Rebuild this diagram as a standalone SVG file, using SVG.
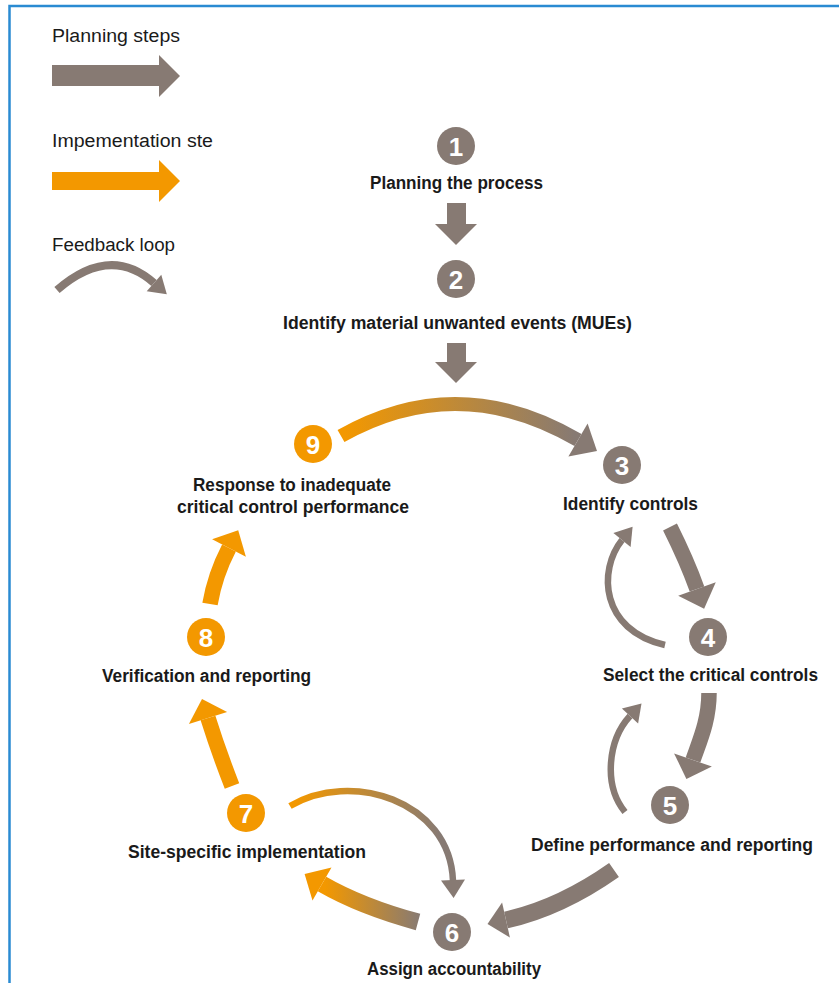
<svg xmlns="http://www.w3.org/2000/svg" width="839" height="983" viewBox="0 0 839 983">
<style>
.bg{fill:#ffffff}
.frame{fill:none;stroke:#2a8bd2;stroke-width:2.5}
.g{fill:#877a73}
.o{fill:#f39800}
.sg{fill:none;stroke:#877a73}
.so{fill:none;stroke:#f39800}
.thick{stroke-width:15.5}
.thin{stroke-width:6.5}
.num{font-family:"Liberation Sans Narrow","Liberation Sans",Arial,sans-serif;font-weight:bold;font-size:26px;fill:#ffffff;text-anchor:middle}
.lbl{font-family:"Liberation Sans Narrow","Liberation Sans",Arial,sans-serif;font-weight:bold;font-size:18px;fill:#1a1a1a;text-anchor:middle}
.leg{font-family:"Liberation Sans Narrow","Liberation Sans",Arial,sans-serif;font-size:18px;fill:#1a1a1a}
</style>
<defs>
<linearGradient id="g93" gradientUnits="userSpaceOnUse" x1="345" y1="0" x2="575" y2="0">
<stop offset="0" stop-color="#f39800"/><stop offset="1" stop-color="#877a73"/>
</linearGradient>
<linearGradient id="g76" gradientUnits="userSpaceOnUse" x1="295" y1="0" x2="440" y2="0">
<stop offset="0" stop-color="#f39800"/><stop offset="1" stop-color="#877a73"/>
</linearGradient>
<linearGradient id="g67" gradientUnits="userSpaceOnUse" x1="420" y1="0" x2="325" y2="0">
<stop offset="0" stop-color="#877a73"/><stop offset="1" stop-color="#f39800"/>
</linearGradient>
</defs>
<rect class="bg" x="0" y="0" width="839" height="983"/>
<path class="frame" d="M9.5,983 V6 H839"/>

<g id="legend">
<text class="leg" x="52" y="42" textLength="128" lengthAdjust="spacingAndGlyphs">Planning steps</text>
<polygon class="g" points="52,65 159,65 159,55 180,76 159,97 159,86 52,86"/>
<text class="leg" x="52" y="147" textLength="161" lengthAdjust="spacingAndGlyphs">Impementation ste</text>
<polygon class="o" points="52,172 159,172 159,160 180,181 159,202 159,190 52,190"/>
<text class="leg" x="52" y="251" textLength="123" lengthAdjust="spacingAndGlyphs">Feedback loop</text>
<path class="sg" stroke-width="8" d="M57,290 Q110,244 154,283"/>
<polygon class="g" points="166.8,294.2 146.7,291.3 161.3,274.8"/>
</g>

<g id="connectors">
<!-- 1 -> 2 -->
<polygon class="g" points="447,203 466,203 466,224 477,224 456,245 435,224 447,224"/>
<!-- 2 -> 3 -->
<polygon class="g" points="447,343 466,343 466,362 477,362 456,383 435,362 447,362"/>
<!-- 9 -> 3 -->
<path fill="none" stroke="url(#g93)" stroke-width="14" d="M341,436 Q458,370 578,440"/>
<polygon class="g" points="597,451.1 568.4,456.4 587.6,423.6"/>
<!-- 3 -> 4 -->
<path class="sg thick" d="M670,527 Q687,561 697,589"/>
<polygon class="g" points="704.1,608.8 678.2,595.7 715.8,582.3"/>
<!-- 4 -> 3 feedback -->
<path class="sg thin" d="M665,645 C600,630 598,570 622,540"/>
<polygon class="g" points="632.6,526.7 630.6,546.9 613.4,533.1"/>
<!-- 4 -> 5 -->
<path class="sg thick" d="M709,693 C709,720 700,740 693,760"/>
<polygon class="g" points="686.4,778.9 711.9,766.6 674.1,753.4"/>
<!-- 5 -> 4 feedback -->
<path class="sg thin" d="M625,812 C603,785 608,740 630,716"/>
<polygon class="g" points="641.5,703.5 638.1,723.4 621.9,708.6"/>
<!-- 5 -> 6 -->
<path class="sg" stroke-width="17" d="M614,870 Q560,908 506,920"/>
<polygon class="g" points="487.5,924.1 509.9,937.6 502.1,902.4"/>
<!-- 7 -> 6 feedback -->
<path fill="none" stroke="url(#g76)" stroke-width="6.5" d="M290,806 C350,770 450,800 453,881"/>
<polygon class="g" points="453.6,898 441,880.4 465,879.6"/>
<!-- 6 -> 7 -->
<path fill="none" stroke="url(#g67)" stroke-width="17" d="M418,922 Q361,906.5 322,884"/>
<polygon class="o" points="304.6,874 331.5,867.5 312.5,900.5"/>
<!-- 7 -> 8 -->
<path class="so thick" d="M232,786 Q218,750 208,718"/>
<polygon class="o" points="202,698.9 227.1,712 188.9,724"/>
<!-- 8 -> 9 -->
<path class="so thick" d="M210,604 Q215,575 229,548"/>
<polygon class="o" points="238.2,530.2 245.9,556.7 212.1,539.3"/>
</g>

<g id="node-1">
<circle class="g" cx="456" cy="146" r="19"/>
<text class="num" x="456" y="155.5">1</text>
<text class="lbl" x="456.5" y="189" textLength="173" lengthAdjust="spacingAndGlyphs">Planning the process</text>
</g>
<g id="node-2">
<circle class="g" cx="456" cy="279" r="19"/>
<text class="num" x="456" y="288.5">2</text>
<text class="lbl" x="457.5" y="329" textLength="349" lengthAdjust="spacingAndGlyphs">Identify material unwanted events (MUEs)</text>
</g>
<g id="node-3">
<circle class="g" cx="622" cy="465" r="19"/>
<text class="num" x="622" y="474.5">3</text>
<text class="lbl" x="630.5" y="510" textLength="135" lengthAdjust="spacingAndGlyphs">Identify controls</text>
</g>
<g id="node-4">
<circle class="g" cx="708" cy="637" r="19"/>
<text class="num" x="708" y="646.5">4</text>
<text class="lbl" x="710.5" y="681" textLength="215" lengthAdjust="spacingAndGlyphs">Select the critical controls</text>
</g>
<g id="node-5">
<circle class="g" cx="670" cy="805" r="19"/>
<text class="num" x="670" y="814.5">5</text>
<text class="lbl" x="672" y="851" textLength="282" lengthAdjust="spacingAndGlyphs">Define performance and reporting</text>
</g>
<g id="node-6">
<circle class="g" cx="452" cy="932" r="19"/>
<text class="num" x="452" y="941.5">6</text>
<text class="lbl" x="454" y="975" textLength="174" lengthAdjust="spacingAndGlyphs">Assign accountability</text>
</g>
<g id="node-7">
<circle class="o" cx="246" cy="813" r="19"/>
<text class="num" x="246" y="822.5">7</text>
<text class="lbl" x="247" y="858" textLength="238" lengthAdjust="spacingAndGlyphs">Site-specific implementation</text>
</g>
<g id="node-8">
<circle class="o" cx="206" cy="637" r="19"/>
<text class="num" x="206" y="646.5">8</text>
<text class="lbl" x="206.5" y="682" textLength="209" lengthAdjust="spacingAndGlyphs">Verification and reporting</text>
</g>
<g id="node-9">
<circle class="o" cx="313" cy="444" r="19"/>
<text class="num" x="313" y="453.5">9</text>
<text class="lbl" x="292" y="491" textLength="198" lengthAdjust="spacingAndGlyphs">Response to inadequate</text>
<text class="lbl" x="293" y="513" textLength="232" lengthAdjust="spacingAndGlyphs">critical control performance</text>
</g>
</svg>
